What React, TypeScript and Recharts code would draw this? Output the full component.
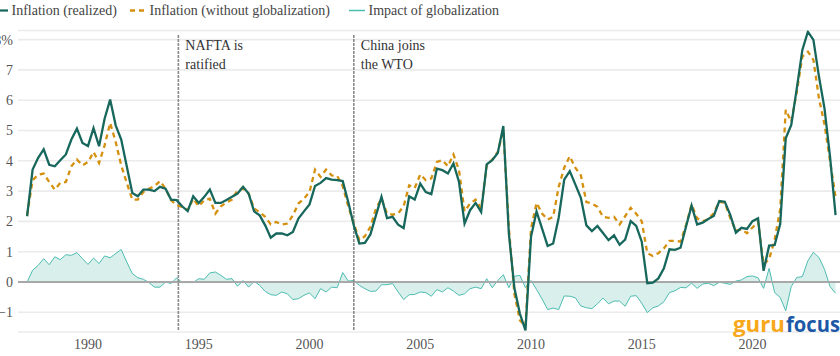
import React from 'react';
import {
  ComposedChart,
  Line,
  Area,
  XAxis,
  YAxis,
  CartesianGrid,
  ReferenceLine,
  Legend,
} from 'recharts';

// Quarterly observations, first quarter plotted at 1987.25
const startYear = 1987.25;

const realized = [
  2.17, 3.71, 4.10, 4.38, 3.87, 3.82, 4.02, 4.21, 4.70, 5.06, 4.59, 4.49, 5.08, 4.48, 5.39, 6.02, 5.17, 4.70, 3.82, 2.94,
  2.83, 3.05, 3.05, 3.00, 3.14, 3.08, 2.72, 2.70, 2.50, 2.34, 2.83, 2.61, 2.81, 3.05, 2.61, 2.61, 2.71,
  2.81, 2.92, 3.14, 2.92, 2.33, 2.20, 1.87, 1.46, 1.60, 1.60, 1.54, 1.65, 2.09, 2.33, 2.56, 3.17, 3.27, 3.43, 3.38,
  3.36, 3.33, 2.64, 1.87, 1.27, 1.29, 1.57, 2.20, 2.81, 2.11, 2.15, 1.89, 1.78, 2.83, 2.72, 3.25, 2.97, 2.90,
  3.74, 3.69, 3.58, 3.91, 3.30, 1.93, 2.37, 2.61, 2.31, 3.88, 4.02, 4.26, 5.15, 1.60, -0.20, -1.05, -1.60, 1.49, 2.33,
  1.76, 1.19, 1.27, 2.12, 3.38, 3.66, 3.22, 2.78, 1.87, 1.68, 1.85, 1.62, 1.38, 1.54, 1.23, 1.40, 2.01, 1.85,
  1.33, -0.04, -0.02, 0.12, 0.45, 1.08, 1.06, 1.13, 1.83, 2.52, 1.90, 1.96, 2.08, 2.18, 2.67, 2.65, 2.21, 1.63, 1.79,
  1.75, 2.01, 2.10, 0.37, 1.20, 1.22, 1.91, 4.74, 5.18, 6.39, 7.66, 8.26, 7.99, 6.78, 5.73, 4.14, 2.21,
];

const withoutGlobalization = [
  2.20, 3.36, 3.54, 3.58, 3.30, 3.05, 3.27, 3.30, 3.82, 4.04, 3.85, 3.96, 4.29, 3.93, 4.51, 5.25, 4.62, 3.85, 3.27, 2.72,
  2.72, 2.97, 3.08, 3.16, 3.33, 3.08, 2.70, 2.53, 2.48, 2.37, 2.75, 2.50, 2.70, 2.75, 2.26, 2.50, 2.62,
  2.72, 3.03, 3.08, 2.92, 2.42, 2.31, 2.15, 1.90, 1.98, 1.90, 1.93, 2.20, 2.59, 2.75, 2.97, 3.71, 3.47, 3.71, 3.52,
  3.50, 3.16, 2.50, 1.93, 1.38, 1.51, 1.82, 2.42, 2.75, 2.26, 2.22, 2.26, 2.50, 3.19, 3.10, 3.55, 3.36, 3.42,
  3.96, 4.02, 3.82, 4.21, 3.69, 2.33, 2.59, 2.72, 2.42, 3.85, 4.04, 4.29, 5.01, 1.80, -0.39, -1.27, -1.45, 1.76, 2.61,
  2.26, 2.06, 2.15, 3.14, 3.77, 4.15, 3.77, 3.52, 2.64, 2.59, 2.48, 2.15, 2.12, 2.15, 1.90, 2.17, 2.45, 2.25,
  2.00, 0.95, 0.86, 0.95, 1.11, 1.36, 1.36, 1.33, 1.88, 2.56, 2.10, 2.01, 2.07, 2.27, 2.65, 2.62, 2.10, 1.69, 1.74,
  1.61, 1.80, 1.99, 0.58, 0.75, 1.40, 2.40, 5.68, 5.29, 6.28, 7.44, 7.60, 7.33, 6.06, 5.20, 4.00, 2.80,
];

const impactOfGlobalization = [
  0.00, 0.39, 0.55, 0.77, 0.57, 0.83, 0.74, 0.90, 0.88, 0.97, 0.77, 0.58, 0.79, 0.61, 0.86, 0.80, 0.94, 1.07, 0.66, 0.28,
  0.14, 0.09, -0.02, -0.17, -0.17, 0.00, -0.05, 0.14, -0.02, -0.02, -0.02, 0.11, 0.09, 0.30, 0.33, 0.22, 0.09,
  0.11, -0.14, 0.05, -0.17, 0.02, -0.11, -0.31, -0.42, -0.44, -0.33, -0.39, -0.58, -0.55, -0.44, -0.36, -0.55, -0.22, -0.33, -0.17,
  -0.19, 0.31, 0.03, 0.05, -0.11, -0.22, -0.31, -0.30, -0.09, -0.09, -0.05, -0.33, -0.58, -0.42, -0.41, -0.33, -0.35, -0.47,
  -0.25, -0.33, -0.19, -0.30, -0.44, -0.39, -0.22, -0.17, -0.22, 0.11, -0.19, 0.05, 0.24, -0.19, 0.19, 0.22, -0.19, 0.05, -0.25,
  -0.56, -0.91, -0.86, -0.91, -0.46, -0.47, -0.52, -0.79, -0.85, -0.88, -0.72, -0.53, -0.72, -0.63, -0.63, -0.80, -0.47, -0.45,
  -0.70, -1.01, -0.85, -0.79, -0.65, -0.35, -0.29, -0.18, -0.19, -0.04, -0.21, -0.07, -0.04, -0.12, -0.01, -0.04, -0.08, 0.03, 0.07,
  0.18, 0.20, 0.14, -0.21, 0.45, -0.35, -0.51, -0.95, -0.15, 0.15, 0.18, 0.70, 0.98, 0.81, 0.42, -0.15, -0.37,
];

const yearTicks = [1990, 1995, 2000, 2005, 2010, 2015, 2020];
const valueTicks = [-1, 0, 1, 2, 3, 4, 5, 6, 7, 8];

const events = [
  { year: 1994.08, lines: ['NAFTA is', 'ratified'] },
  { year: 2002.0, lines: ['China joins', 'the WTO'] },
];

const legendItems = [
  { label: 'Inflation (realized)', kind: 'solid', color: '#17675c', left: -8 },
  { label: 'Inflation (without globalization)', kind: 'dash', color: '#d4900e', left: 130 },
  { label: 'Impact of globalization', kind: 'thin', color: '#4dbdb1', left: 349 },
];

const data = realized.map((r, i) => ({
  year: startYear + i * 0.25,
  realized: r,
  without: withoutGlobalization[i],
  impact: impactOfGlobalization[i],
}));

const FONT = '"Liberation Serif", "Times New Roman", serif';

const LegendContent = () => (
  <div style={{ position: 'relative', height: 0, overflow: 'visible' }}>
    <svg width={840} height={24} style={{ position: 'absolute', left: 0, top: 0, overflow: 'visible' }}>
      {legendItems.map((it) => (
        <g key={it.label}>
          {it.kind === 'solid' && (
            <line x1={it.left} x2={it.left + 16} y1={10.5} y2={10.5} stroke={it.color} strokeWidth={2.2} />
          )}
          {it.kind === 'dash' && (
            <line x1={it.left} x2={it.left + 16} y1={10.5} y2={10.5} stroke={it.color} strokeWidth={2.4} strokeDasharray="5 4" />
          )}
          {it.kind === 'thin' && (
            <line x1={it.left} x2={it.left + 16} y1={10.5} y2={10.5} stroke={it.color} strokeWidth={1.5} />
          )}
          <text x={it.left + 19.5} y={15} fontFamily={FONT} fontSize={14} fill="#444">
            {it.label}
          </text>
        </g>
      ))}
    </svg>
  </div>
);

const makeEventLabel = (lines: string[]) => (props: any) => {
  const vb = props.viewBox || {};
  const x = (vb.x ?? 0) + 7;
  return (
    <g>
      {lines.map((t, k) => (
        <text key={t} x={x} y={50 + k * 18.5} fontFamily={FONT} fontSize={14} fill="#333">
          {t}
        </text>
      ))}
    </g>
  );
};

export default function App() {
  return (
    <div style={{ position: 'absolute', left: 0, top: 0, width: 840, height: 356, background: '#fff' }}>
      <ComposedChart
        width={840}
        height={356}
        data={data}
        margin={{ top: 30.5, right: 0, bottom: 0, left: 0 }}
      >
        <CartesianGrid vertical={false} stroke="#ebebeb" strokeWidth={1.6} />
        <XAxis
          type="number"
          dataKey="year"
          domain={[1986.84, 2023.95]}
          ticks={yearTicks}
          allowDataOverflow
          axisLine={false}
          tickLine={false}
          tickSize={0}
          tickMargin={7}
          height={24}
          tick={{ fill: '#555', fontSize: 14, fontFamily: FONT }}
        />
        <YAxis
          type="number"
          domain={[-1.65, 8.3]}
          ticks={valueTicks}
          allowDataOverflow
          axisLine={false}
          tickLine={false}
          tickSize={0}
          tickMargin={5}
          width={18}
          interval={0}
          tickFormatter={(v: number) => (v === 8 ? '8%' : v < 0 ? `\u2212${Math.abs(v)}` : String(v))}
          tick={{ fill: '#555', fontSize: 14, fontFamily: FONT }}
        />
        <Legend verticalAlign="top" align="left" content={LegendContent} wrapperStyle={{ top: 0, left: 0 }} />
        <Area
          type="linear"
          dataKey="impact"
          stroke="#4dbdb1"
          strokeWidth={1}
          fill="#d9efec"
          fillOpacity={1}
          baseValue={0}
          dot={false}
          activeDot={false}
          isAnimationActive={false}
        />
        <ReferenceLine y={0} stroke="#a8a8a8" strokeWidth={2} />
        {events.map((e) => (
          <ReferenceLine
            key={e.year}
            segment={[
              { x: e.year, y: 8.15 },
              { x: e.year, y: -1.58 },
            ]}
            stroke="#8a8a8a"
            strokeWidth={1.6}
            strokeDasharray="3 1"
            label={makeEventLabel(e.lines)}
          />
        ))}
        <Line
          type="linear"
          dataKey="without"
          stroke="#d4900e"
          strokeWidth={2.3}
          strokeDasharray="5 4"
          dot={false}
          activeDot={false}
          isAnimationActive={false}
        />
        <Line
          type="linear"
          dataKey="realized"
          stroke="#17675c"
          strokeWidth={2.3}
          dot={false}
          activeDot={false}
          isAnimationActive={false}
        />
      </ComposedChart>
      <svg
        width={840}
        height={356}
        style={{ position: 'absolute', left: 0, top: 0, pointerEvents: 'none' }}
      >
        <text x={733} y={331.5} fontFamily='"Open Sans", sans-serif' fontWeight={700} fontSize={21} fill="#f7a81b" textLength={52} lengthAdjust="spacingAndGlyphs">
          guru
        </text>
        <text x={786} y={331.5} fontFamily='"Open Sans", sans-serif' fontWeight={700} fontSize={21} fill="#1c58a6" textLength={54} lengthAdjust="spacingAndGlyphs">
          focus
        </text>
      </svg>
    </div>
  );
}
